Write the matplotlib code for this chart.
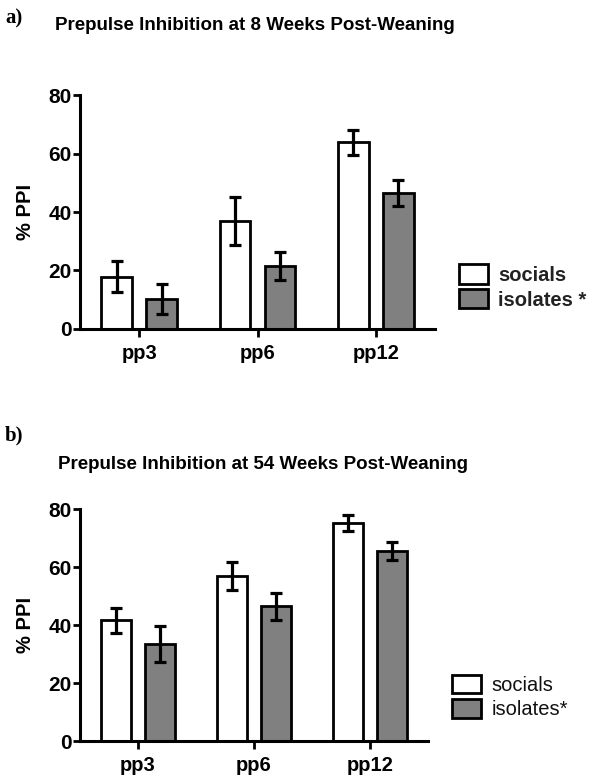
import numpy as np
import matplotlib
matplotlib.use('Agg')
import matplotlib.pyplot as plt
from matplotlib.patches import Patch

# data
groups = ['pp3', 'pp6', 'pp12']
series = ['socials', 'isolates']

social_8wk = [17.8, 36.9, 63.9]
social_8wk_err = [5.3, 8.2, 4.3]
isolate_8wk = [10.3, 21.5, 46.4]
isolate_8wk_err = [5.2, 4.8, 4.5]

social_54wk = [41.7, 56.9, 75.2]
social_54wk_err = [4.3, 4.7, 2.8]
isolate_54wk = [33.6, 46.5, 65.5]
isolate_54wk_err = [6.2, 4.7, 3.1]

titles = ['Prepulse Inhibition at 8 Weeks Post-Weaning',
          'Prepulse Inhibition at 54 Weeks Post-Weaning']
panel_labels = ['a)', 'b)']
yticks = [0, 20, 40, 60, 80]

GREY = '#808080'
plt.rcParams['font.family'] = ['Liberation Sans', 'DejaVu Sans']
plt.rcParams['font.weight'] = 'bold'

fig = plt.figure(figsize=(6.04, 7.82), dpi=100)
ax_top = fig.add_axes([0.1325, 0.5793, 0.5877, 0.2992])
ax_bot = fig.add_axes([0.1325, 0.0524, 0.576, 0.2967])


def draw_panel(ax, soc, soc_err, iso, iso_err):
    x = np.arange(len(groups))
    w = 0.26
    off = 0.19
    ekw = dict(elinewidth=2.3, capsize=4, capthick=2.3, ecolor='black')
    ax.bar(x - off, soc, w, color='white', edgecolor='black', linewidth=2,
           yerr=soc_err, error_kw=ekw, zorder=2)
    ax.bar(x + off, iso, w, color=GREY, edgecolor='black', linewidth=2,
           yerr=iso_err, error_kw=ekw, zorder=2)
    ax.set_xlim(-0.5, 2.5)
    ax.set_ylim(0, 80)
    ax.set_yticks(yticks)
    ax.set_xticks(x)
    ax.set_xticklabels(groups, fontsize=14.5, fontweight='bold')
    ax.tick_params(axis='y', labelsize=15, width=2, length=5, pad=1)
    ax.tick_params(axis='x', width=2, length=6, pad=5)
    for s in ['top', 'right']:
        ax.spines[s].set_visible(False)
    for s in ['left', 'bottom']:
        ax.spines[s].set_linewidth(2.2)
    ax.set_ylabel('% PPI', fontsize=14.5, fontweight='bold', labelpad=10)


draw_panel(ax_top, social_8wk, social_8wk_err, isolate_8wk, isolate_8wk_err)
draw_panel(ax_bot, social_54wk, social_54wk_err, isolate_54wk, isolate_54wk_err)

fig.text(55 / 604, 1 - 25 / 782, titles[0], fontsize=13.5, fontweight='bold', va='center')
fig.text(58 / 604, 1 - 465 / 782, titles[1], fontsize=13.5, fontweight='bold', va='center')
fig.text(5 / 604, 1 - 18 / 782, panel_labels[0], fontsize=15, fontweight='bold',
         family='Liberation Serif', va='center')
fig.text(5 / 604, 1 - 435 / 782, panel_labels[1], fontsize=15, fontweight='bold',
         family='Liberation Serif', va='center')

# legends
top_handles = [Patch(facecolor='white', edgecolor='black', linewidth=2),
               Patch(facecolor=GREY, edgecolor='black', linewidth=2)]
fig.legend(top_handles, ['socials', 'isolates *'], loc='center left',
           bbox_to_anchor=(441 / 604, 1 - 287 / 782), frameon=False,
           prop=dict(size=14.5, weight='bold'), handlelength=1.45, handleheight=1.1,
           handletextpad=0.5, labelspacing=0.2, labelcolor='#222222')
bot_handles = [Patch(facecolor='white', edgecolor='black', linewidth=2),
               Patch(facecolor=GREY, edgecolor='black', linewidth=2)]
fig.legend(bot_handles, ['socials', 'isolates*'], loc='center left',
           bbox_to_anchor=(434 / 604, 1 - 697 / 782), frameon=False,
           prop=dict(size=14.5, weight='normal'), handlelength=1.45, handleheight=1.05,
           handletextpad=0.5, labelspacing=0.2, labelcolor='#111111')

fig.savefig('out.png', dpi=100)
